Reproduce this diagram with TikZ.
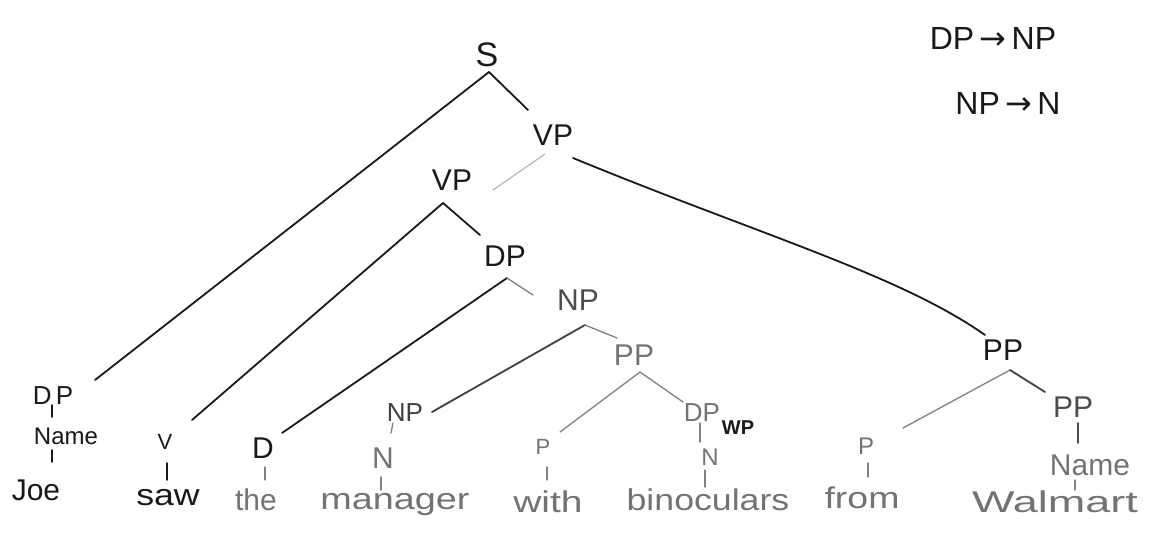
\documentclass[tikz,border=0pt]{standalone}
\usepackage{fontspec}
\setmainfont{Liberation Sans}
\newfontfamily\arrowfont{DejaVu Sans}
\usepackage{graphicx}
\newcommand{\hw}[2]{\scalebox{#1}[1]{#2}}
\newcommand{\rarr}{{\arrowfont →}}
\begin{document}
\begin{tikzpicture}[x=1pt,y=-1pt,
  lab/.style={inner sep=0pt, font=\fontsize{30}{32}\selectfont, text=black!90},
  labg/.style={lab, text=black!55},
  word/.style={inner sep=0pt, font=\fontsize{30}{32}\selectfont, text=black!90},
  wordg/.style={word, text=black!55},
  ink/.style={draw=black!90, line width=1.8pt, line cap=round},
  pencil/.style={draw=black!50, line width=1.3pt, line cap=round},
  faint/.style={draw=black!30, line width=1.1pt, line cap=round}]
\fill[white] (0,0) rectangle (1152,539);
\useasboundingbox (0,0) rectangle (1152,539);

% ---- nodes ----
\node[lab] (S) at (487,55) {\fontsize{34}{36}\selectfont S};
\node[lab] (VPt) at (553,135) {VP};
\node[lab] (VPl) at (452,180) {VP};
\node[lab] (DPm) at (505,256) {DP};
\node[lab, text=black!70] (NPm) at (578,300) {NP};
\node[labg] (PPm) at (634,355) {PP};
\node[lab] (PPr) at (1003,350) {PP};

\node[lab] (DPj) at (53,396) {\fontsize{26}{28}\selectfont D\,P};
\node[word] (Namej) at (66,436) {\fontsize{24}{26}\selectfont Name};
\node[word] (Joe) at (36,490) {Joe};

\node[lab] (V) at (165,442) {\fontsize{22}{24}\selectfont V};
\node[word] (saw) at (168,498) {\hw{1.19}{saw}};

\node[lab] (D) at (263,448) {D};
\node[wordg] (the) at (256,500) {the};

\node[lab, text=black!75] (NPn) at (405,413) {\fontsize{26}{28}\selectfont NP};
\node[labg] (Nm) at (383,458) {N};
\node[wordg] (manager) at (395,505) {\hw{1.26}{manager}};

\node[labg] (Pw) at (543,447) {\fontsize{22}{24}\selectfont P};
\node[wordg] (with) at (548,502) {\hw{1.3}{with}};

\node[labg] (DPb) at (702,413) {\fontsize{26}{28}\selectfont DP};
\node[lab, font=\bfseries\fontsize{20}{22}\selectfont] (WP) at (738,428) {WP};
\node[labg] (Nb) at (710,457) {\fontsize{24}{26}\selectfont N};
\node[wordg] (bin) at (708,500) {\hw{1.19}{binoculars}};

\node[labg] (Pf) at (866,446) {\fontsize{24}{26}\selectfont P};
\node[wordg] (from) at (862,498) {\hw{1.25}{from}};

\node[lab, text=black!70] (PPw) at (1073,407) {PP};
\node[wordg] (Namew) at (1090,465) {Name};
\node[wordg] (Walmart) at (1055,502) {\hw{1.5}{Walmart}};

\node[lab] (r1) at (993,38) {\fontsize{32}{34}\selectfont DP\,\rarr\,NP};
\node[lab] (r2) at (1008,103) {\fontsize{32}{34}\selectfont NP\,\rarr\,N};

% ---- branch coordinates ----
\coordinate (S-b) at (489,72);
\coordinate (DPj-t) at (95,380);
\coordinate (VPt-t) at (528,110);
\coordinate (VPt-bl) at (545,154);
\coordinate (VPt-br) at (573,158);
\coordinate (VPl-t) at (493,190);
\coordinate (PPr-t) at (985,335);
\coordinate (VPl-b) at (443,203);
\coordinate (V-t) at (192,420);
\coordinate (DPm-t) at (480,235);
\coordinate (DPm-b) at (507,278);
\coordinate (D-t) at (282,433);
\coordinate (NPm-t) at (533,295);
\coordinate (NPm-b) at (585,325);
\coordinate (NPn-t) at (432,412);
\coordinate (PPm-t) at (617,338);
\coordinate (PPm-b) at (640,372);
\coordinate (Pw-t) at (560,432);
\coordinate (DPb-t) at (683,402);
\coordinate (PPr-b) at (1010,370);
\coordinate (Pf-t) at (903,428);
\coordinate (PPw-t) at (1045,392);

% ---- branches ----
\draw[ink] (S-b) -- (DPj-t);
\draw[ink] (S-b) -- (VPt-t);
\draw[faint] (VPt-bl) -- (VPl-t);
\draw[ink] (VPt-br) .. controls (760,235) and (900,275) .. (PPr-t);
\draw[ink] (VPl-b) -- (V-t);
\draw[ink] (VPl-b) -- (DPm-t);
\draw[ink] (DPm-b) -- (D-t);
\draw[pencil] (DPm-b) -- (NPm-t);
\draw[ink, draw=black!75] (NPm-b) -- (NPn-t);
\draw[pencil] (NPm-b) -- (PPm-t);
\draw[pencil] (PPm-b) -- (Pw-t);
\draw[pencil] (PPm-b) -- (DPb-t);
\draw[pencil] (PPr-b) -- (Pf-t);
\draw[ink, draw=black!75] (PPr-b) -- (PPw-t);

% ---- ticks ----
\coordinate (DPj-s) at (52,405);  \coordinate (Namej-n) at (52,417);
\coordinate (Namej-s) at (52,450); \coordinate (Joe-n) at (52,462);
\coordinate (V-s) at (167,463);   \coordinate (saw-n) at (167,480);
\coordinate (D-s) at (265,467);   \coordinate (the-n) at (265,480);
\coordinate (NPn-s) at (393,423); \coordinate (Nm-n) at (391,433);
\coordinate (Nm-s) at (381,477);  \coordinate (man-n) at (381,490);
\coordinate (Pw-s) at (547,467);  \coordinate (with-n) at (547,480);
\coordinate (DPb-s) at (700,423); \coordinate (Nb-n) at (700,442);
\coordinate (Nb-s) at (705,470);  \coordinate (bin-n) at (705,487);
\coordinate (Pf-s) at (868,463);  \coordinate (from-n) at (868,477);
\coordinate (PPw-s) at (1078,423); \coordinate (Namew-n) at (1078,443);
\coordinate (Namew-s) at (1075,480); \coordinate (Wal-n) at (1075,490);
\draw[ink] (DPj-s) -- (Namej-n);
\draw[ink] (Namej-s) -- (Joe-n);
\draw[ink] (V-s) -- (saw-n);
\draw[pencil] (D-s) -- (the-n);
\draw[pencil] (NPn-s) -- (Nm-n);
\draw[pencil] (Nm-s) -- (man-n);
\draw[pencil] (Pw-s) -- (with-n);
\draw[pencil] (DPb-s) -- (Nb-n);
\draw[pencil] (Nb-s) -- (bin-n);
\draw[pencil] (Pf-s) -- (from-n);
\draw[ink, draw=black!70] (PPw-s) -- (Namew-n);
\draw[pencil] (Namew-s) -- (Wal-n);
\end{tikzpicture}
\end{document}
